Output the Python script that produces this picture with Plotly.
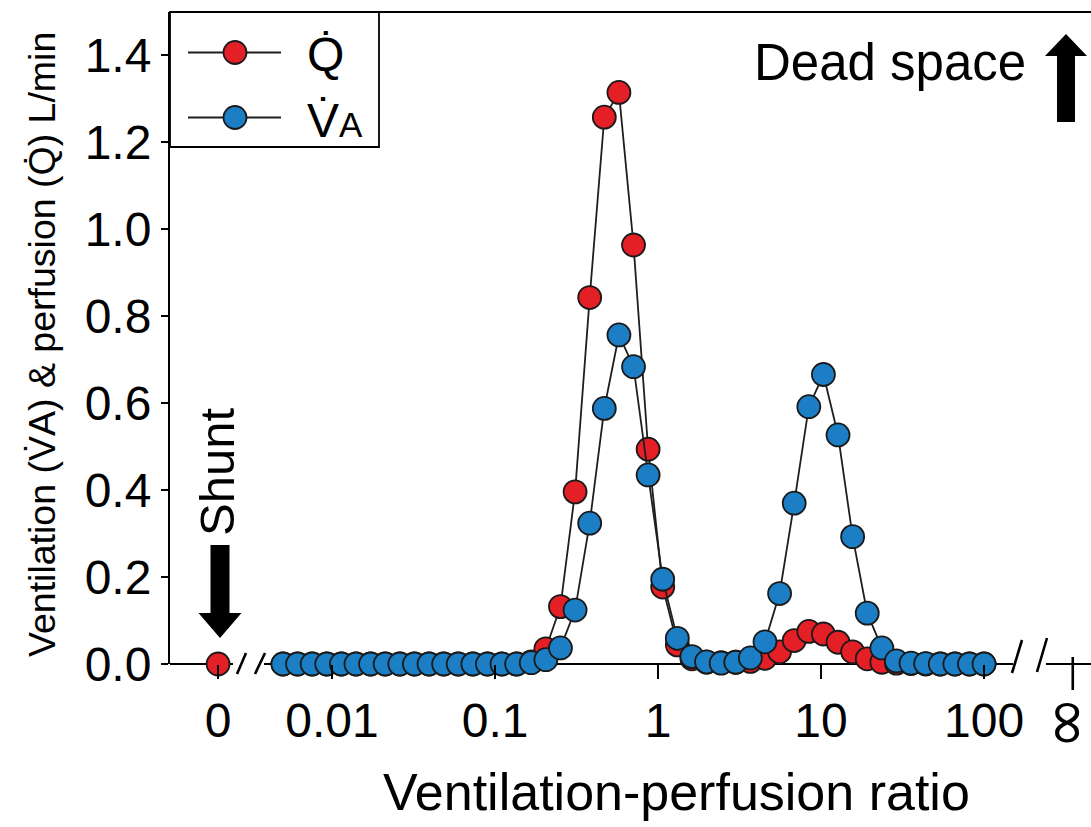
import math
import plotly.graph_objects as go

W, H = 1091, 827
ML, MR, MT, MB = 170, 0, 12, 163

# ---- data: 49 log-spaced V/Q compartments (0.005 .. 100) ----
vq = [0.00500, 0.006145, 0.007553, 0.009285, 0.01141, 0.01403, 0.01724, 0.02119,
      0.02605, 0.03202, 0.03936, 0.04838, 0.05946, 0.07309, 0.08984, 0.1104,
      0.1357, 0.1668, 0.2050, 0.2520, 0.3098, 0.3808, 0.4681, 0.5754,
      0.7072, 0.8693, 1.068, 1.313, 1.614, 1.984, 2.439, 2.998,
      3.685, 4.529, 5.567, 6.843, 8.411, 10.34, 12.71, 15.62,
      19.20, 23.60, 29.00, 35.65, 43.82, 53.86, 66.21, 81.38, 100.0]

perfusion_q = [0, 0, 0, 0, 0, 0, 0, 0, 0, 0, 0, 0, 0, 0, 0, 0,
               0, 0.005, 0.035, 0.132, 0.396, 0.843, 1.258, 1.315,
               0.964, 0.494, 0.177, 0.044, 0.012, 0.004, 0.003, 0.004,
               0.006, 0.013, 0.028, 0.054, 0.075, 0.069, 0.050, 0.028,
               0.012, 0.004, 0.002, 0.001, 0, 0, 0, 0, 0]

ventilation_va = [0, 0, 0, 0, 0, 0, 0, 0, 0, 0, 0, 0, 0, 0, 0, 0,
                  0, 0.003, 0.010, 0.037, 0.124, 0.324, 0.588, 0.757,
                  0.684, 0.435, 0.195, 0.059, 0.017, 0.005, 0.002, 0.004,
                  0.014, 0.051, 0.162, 0.370, 0.592, 0.666, 0.527, 0.293,
                  0.117, 0.037, 0.007, 0.002, 0.001, 0, 0, 0, 0]

shunt_q = [0.0]          # perfusion of the shunt (V/Q = 0) compartment
ZERO_POS = 0.002         # where "0" sits on the broken log axis
INF_POS = 350            # where "∞" sits on the broken log axis

xtick_vals = [ZERO_POS, 0.01, 0.1, 1, 10, 100]
xtick_text = ["0", "0.01", "0.1", "1", "10", "100"]
ytick_vals = [0, 0.2, 0.4, 0.6, 0.8, 1.0, 1.2, 1.4]
ytick_text = ["0.0", "0.2", "0.4", "0.6", "0.8", "1.0", "1.2", "1.4"]

XR = [-2.994, 2.656]
YR = [0, 1.5]

RED = "#e41f26"
BLUE = "#1c7fc6"
EDGE = "#1a1a1a"
FONT = "Liberation Sans, Arial, Helvetica, sans-serif"

PW = W - ML - MR
PH = H - MT - MB


def px(x):   # pixel x -> paper
    return (x - ML) / PW


def py(y):   # pixel y -> paper
    return (H - MB - y) / PH


def dx(v):   # data x (log axis) -> paper
    return (math.log10(v) - XR[0]) / (XR[1] - XR[0])


MSIZE = 23
fig = go.Figure()

fig.add_trace(go.Scatter(
    x=vq, y=perfusion_q, mode="lines+markers", cliponaxis=False,
    line=dict(color="#1e1e1e", width=1.8),
    marker=dict(size=MSIZE, color=RED, line=dict(color=EDGE, width=1.8)),
    showlegend=False))
fig.add_trace(go.Scatter(
    x=vq, y=ventilation_va, mode="lines+markers", cliponaxis=False,
    line=dict(color="#1e1e1e", width=1.8),
    marker=dict(size=MSIZE, color=BLUE, line=dict(color=EDGE, width=1.8)),
    showlegend=False))
fig.add_trace(go.Scatter(
    x=[ZERO_POS], y=shunt_q, mode="markers", cliponaxis=False,
    marker=dict(size=MSIZE, color=RED, line=dict(color=EDGE, width=1.8)),
    showlegend=False))

shapes = []
axy = py(H - MB)
LINE = dict(color="black", width=1.8)
# broken x axis line segments
for a, b in [(170, 233), (264, 1013), (1046, 1091)]:
    shapes.append(dict(type="line", xref="paper", yref="paper", x0=px(a), x1=px(b),
                       y0=axy, y1=axy, line=LINE, layer="below"))
# break marks
for (x0, y0, x1, y1) in [(237, 674, 246, 653), (255, 674, 265, 653),
                          (1012, 673, 1022, 640), (1037, 672, 1047, 638)]:
    shapes.append(dict(type="line", xref="paper", yref="paper", x0=px(x0), y0=py(y0),
                       x1=px(x1), y1=py(y1), line=dict(color="black", width=2.6)))
# infinity tick
shapes.append(dict(type="line", xref="paper", yref="paper", x0=dx(INF_POS), x1=dx(INF_POS),
                   y0=py(657), y1=py(690), line=dict(color="black", width=2.6)))
# top frame line
shapes.append(dict(type="line", xref="paper", yref="paper", x0=0, x1=1, y0=1, y1=1,
                   line=dict(color="black", width=2)))


def arrow_path(cx, tip, head_base, tail, shaft_w, head_w):
    pts = [(cx - shaft_w / 2, tail), (cx + shaft_w / 2, tail), (cx + shaft_w / 2, head_base),
           (cx + head_w / 2, head_base), (cx, tip), (cx - head_w / 2, head_base),
           (cx - shaft_w / 2, head_base)]
    return "M " + " L ".join(f"{px(x):.5f},{py(y):.5f}" for x, y in pts) + " Z"


# shunt arrow (down) and dead-space arrow (up)
shapes.append(dict(type="path", xref="paper", yref="paper",
                   path=arrow_path(220, 638, 613, 545, 19, 43),
                   fillcolor="black", line=dict(width=0)))
shapes.append(dict(type="path", xref="paper", yref="paper",
                   path=arrow_path(1066, 34, 56, 122, 18, 42),
                   fillcolor="black", line=dict(width=0)))

# custom legend
shapes.append(dict(type="rect", xref="paper", yref="paper", x0=px(170), x1=px(379),
                   y0=py(147), y1=py(12), line=dict(color="black", width=1.8),
                   fillcolor="rgba(0,0,0,0)"))
for yy, col in [(52.5, RED), (117.5, BLUE)]:
    shapes.append(dict(type="line", xref="paper", yref="paper", x0=px(188), x1=px(281),
                       y0=py(yy), y1=py(yy), line=dict(color="#1e1e1e", width=1.8)))
    shapes.append(dict(type="circle", xref="paper", yref="paper",
                       x0=px(235 - 11.5), x1=px(235 + 11.5), y0=py(yy + 11.5), y1=py(yy - 11.5),
                       fillcolor=col, line=dict(color=EDGE, width=1.8)))

ann = []
ann.append(dict(text="Q\u0307", x=px(305), y=py(55), xref="paper", yref="paper",
                xanchor="left", yanchor="middle", showarrow=False,
                font=dict(size=48, family=FONT, color="black")))
ann.append(dict(text="V\u0307<span style='font-size:35px'>A</span>", x=px(305), y=py(120),
                xref="paper", yref="paper", xanchor="left", yanchor="middle", showarrow=False,
                font=dict(size=48, family=FONT, color="black")))
ann.append(dict(text="Shunt", x=px(217), y=py(472), xref="paper", yref="paper",
                textangle=-90, showarrow=False, xanchor="center", yanchor="middle",
                font=dict(size=49, family=FONT, color="black")))
ann.append(dict(text="Dead space", x=px(1028), y=py(62), xref="paper", yref="paper",
                xanchor="right", yanchor="middle", showarrow=False,
                font=dict(size=51, family=FONT, color="black")))
ann.append(dict(text="\u221e", x=px(1070), y=py(722), xref="paper", yref="paper",
                textangle=90, showarrow=False, xanchor="center", yanchor="middle",
                font=dict(size=64, family="DejaVu Sans, sans-serif", color="black")))
ann.append(dict(text="Ventilation-perfusion ratio", x=px(676), y=py(792), xref="paper",
                yref="paper", showarrow=False, xanchor="center", yanchor="middle",
                font=dict(size=52, family=FONT, color="black")))
ann.append(dict(text="Ventilation (V\u0307A) & perfusion (Q\u0307) L/min", x=px(42), y=py(345),
                xref="paper", yref="paper", textangle=-90, showarrow=False,
                xanchor="center", yanchor="middle",
                font=dict(size=37.5, family=FONT, color="black")))

fig.update_layout(
    width=W, height=H,
    margin=dict(l=ML, r=MR, t=MT, b=MB),
    paper_bgcolor="white", plot_bgcolor="white",
    shapes=shapes, annotations=ann,
    font=dict(family=FONT, color="black"),
    xaxis=dict(type="log", range=XR, showline=False, showgrid=False, zeroline=False,
               tickmode="array", tickvals=xtick_vals, ticktext=xtick_text,
               ticks="outside", ticklen=14, tickwidth=2.2, tickcolor="black",
               tickfont=dict(size=48, family=FONT, color="black")),
    yaxis=dict(range=YR, showline=True, linewidth=2, linecolor="black",
               showgrid=False, zeroline=False,
               tickmode="array", tickvals=ytick_vals, ticktext=ytick_text,
               ticks="outside", ticklen=7, tickwidth=1.6, tickcolor="black",
               tickfont=dict(size=48, family=FONT, color="black")),
)

fig.write_html("out.html")
